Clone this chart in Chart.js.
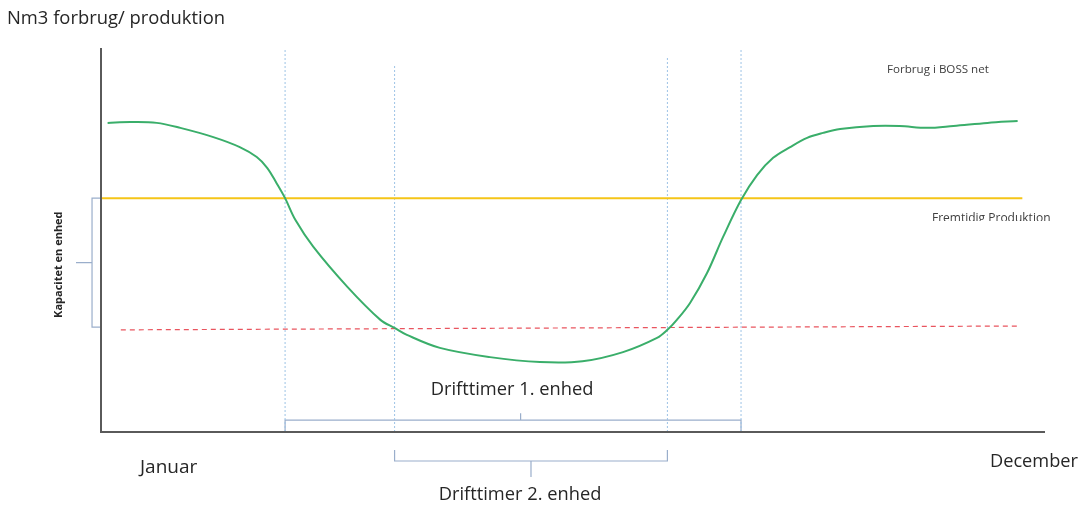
<!DOCTYPE html>
<html>
<head>
<meta charset="utf-8">
<script src="https://cdn.jsdelivr.net/npm/chart.js@4/dist/chart.umd.min.js"></script>
<style>
  html, body { margin: 0; padding: 0; background: #fff; }
  #wrap { width: 1080px; height: 506px; position: relative; }
</style>
</head>
<body>
<div id="wrap"><canvas id="chart" width="1080" height="506"></canvas></div>
<script>
// year runs 0..100 on x, consumption 0..100 on y (schematic, no units)
const forbrugX = [0.7, 3.1, 5.9, 8.4, 11.9, 14.7, 16.5, 17.6, 18.6, 19.5, 20.6, 22.5, 26.1, 29.6, 31.1, 32.4, 35.9, 41.2, 46.5, 51.0, 55.3, 58.9, 60.0, 61.0, 62.4, 64.2, 65.9, 67.8, 69.5, 71.2, 73.0, 74.8, 76.5, 78.3, 81.8, 84.6, 87.5, 90.3, 93.9, 97.1];
const forbrugY = [80.5, 80.7, 80.5, 79.2, 76.8, 74.2, 71.6, 68.8, 64.8, 60.9, 55.2, 48.2, 37.8, 29.2, 27.1, 25.3, 21.9, 19.5, 18.2, 18.4, 20.8, 24.5, 26.6, 29.2, 33.6, 41.4, 50.8, 60.4, 66.9, 71.4, 74.2, 76.6, 77.9, 78.9, 79.7, 79.7, 79.2, 79.7, 80.5, 81.0];

const fremtidigX = [0, 97.6];
const fremtidigY = [60.9, 60.9];

const enhedX = [2.1, 97.4];
const enhedY = [26.6, 27.6];

// start/stop of each unit's running period
const drift1 = [19.5, 67.8];
const drift2 = [31.1, 60.0];
const markerTop = [100, 95.6, 97.7, 99.5];
const kapacitet = [27.3, 60.9];

const markerX = [drift1[0], drift2[0], drift2[1], drift1[1]];

const toPts = (xs, ys) => xs.map((x, i) => ({ x: x, y: ys[i] }));

// bracket shapes built from the ranges
function hBracket(range, base, depth, tip, midOffset) {
  const mid = (range[0] + range[1]) / 2 + (midOffset || 0);
  return [
    { x: range[0], y: base - depth },
    { x: range[0], y: base },
    { x: mid, y: base },
    { x: mid, y: base + tip },
    { x: mid, y: base },
    { x: range[1], y: base },
    { x: range[1], y: base - depth }
  ];
}
function vBracket(range, base, depth, tip) {
  const mid = (range[0] + range[1]) / 2;
  return [
    { x: base + depth, y: range[1] },
    { x: base, y: range[1] },
    { x: base, y: mid },
    { x: base - tip, y: mid },
    { x: base, y: mid },
    { x: base, y: range[0] },
    { x: base + depth, y: range[0] }
  ];
}

const bracketColor = '#9aaecb';
const markerColor = '#9dc3e6';

const datasets = [
  {
    label: 'Forbrug i BOSS net',
    data: toPts(forbrugX, forbrugY),
    borderColor: '#3aae6a',
    borderWidth: 2,
    pointRadius: 0,
    tension: 0.35,
    order: 0
  },
  {
    label: 'Fremtidig Produktion',
    data: toPts(fremtidigX, fremtidigY),
    borderColor: '#f5c518',
    borderWidth: 2,
    pointRadius: 0,
    order: 1
  },
  {
    label: 'Kapacitet en enhed',
    data: toPts(enhedX, enhedY),
    borderColor: '#e9555f',
    borderWidth: 1.2,
    borderDash: [5, 4],
    pointRadius: 0,
    order: 1
  }
];

markerX.forEach((x, i) => {
  datasets.push({
    label: 'marker' + i,
    data: [{ x: x, y: 0 }, { x: x, y: markerTop[i] }],
    borderColor: markerColor,
    borderWidth: 1,
    borderDash: [2, 2],
    pointRadius: 0,
    order: 2
  });
});

datasets.push({
  label: 'Drifttimer 1. enhed',
  data: hBracket(drift1, 3.1, 3.1, 1.8, 0.8),
  borderColor: bracketColor, borderWidth: 1.2, pointRadius: 0, clip: false, order: 2
});
datasets.push({
  label: 'Drifttimer 2. enhed',
  data: hBracket(drift2, -7.55, -2.85, -4.15),
  borderColor: bracketColor, borderWidth: 1.2, pointRadius: 0, clip: false, order: 2
});
datasets.push({
  label: 'Kapacitet',
  data: vBracket(kapacitet, -0.95, 0.85, 1.7),
  borderColor: bracketColor, borderWidth: 1.2, pointRadius: 0, clip: false, order: 2
});

const textPlugin = {
  id: 'texts',
  afterDraw(chart) {
    const { ctx, chartArea: a, scales: { x, y } } = chart;
    ctx.save();

    // axes
    ctx.strokeStyle = '#5a5a5a';
    ctx.lineWidth = 2;
    ctx.beginPath();
    ctx.moveTo(a.left, a.top);
    ctx.lineTo(a.left, a.bottom);
    ctx.lineTo(a.right, a.bottom);
    ctx.stroke();

    const txt = (s, px, py, size, align, color) => {
      ctx.font = size + 'px "Open Sans", sans-serif';
      ctx.fillStyle = color || '#262626';
      ctx.textAlign = align || 'left';
      ctx.textBaseline = 'middle';
      ctx.fillText(s, px, py);
    };

    txt('Nm3 forbrug/ produktion', 7, 19, 18.4);
    txt('Januar', 140, 468, 19);
    txt('December', 990, 462, 18.2);

    const mid1 = x.getPixelForValue((drift1[0] + drift1[1]) / 2);
    const mid2 = x.getPixelForValue((drift2[0] + drift2[1]) / 2);
    txt('Drifttimer 1. enhed', mid1 - 1, 390, 18.3, 'center');
    txt('Drifttimer 2. enhed', mid2 - 11, 495, 18.3, 'center');

    txt('Forbrug i BOSS net', 887, 70, 11.6, 'left', '#404040');

    // this label is cut off at its lower edge in the original
    ctx.save();
    ctx.beginPath();
    ctx.rect(900, 205, 180, 16);
    ctx.clip();
    txt('Fremtidig Produktion', 932, 219, 12, 'left', '#404040');
    ctx.restore();

    ctx.translate(59, y.getPixelForValue((kapacitet[0] + kapacitet[1]) / 2) + 2);
    ctx.rotate(-Math.PI / 2);
    ctx.font = 'bold 11px "Open Sans", sans-serif';
    ctx.fillStyle = '#262626';
    ctx.textAlign = 'center';
    ctx.textBaseline = 'middle';
    ctx.fillText('Kapacitet en enhed', 0, 0);
    ctx.restore();
  }
};

new Chart(document.getElementById('chart'), {
  type: 'line',
  data: { datasets: datasets },
  options: {
    responsive: false,
    animation: false,
    layout: { padding: { left: 101, right: 35, top: 48, bottom: 74 } },
    scales: {
      x: { type: 'linear', min: 0, max: 100, display: false },
      y: { type: 'linear', min: 0, max: 100, display: false }
    },
    plugins: {
      legend: { display: false },
      tooltip: { enabled: false }
    }
  },
  plugins: [textPlugin]
});
</script>
</body>
</html>
